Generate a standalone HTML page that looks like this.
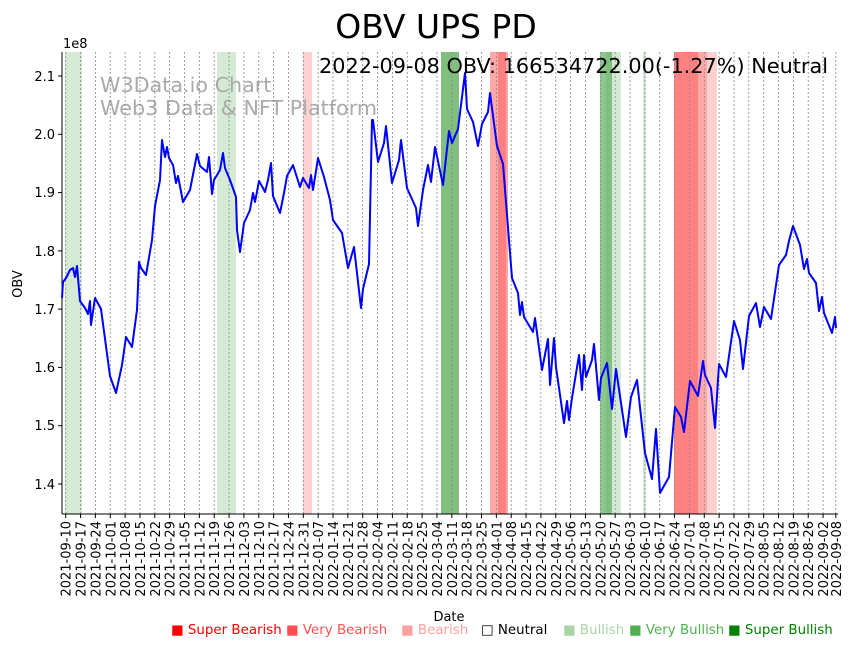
<!DOCTYPE html>
<html><head><meta charset="utf-8"><style>
html,body{margin:0;padding:0;background:#fff;}
svg{display:block;font-family:"DejaVu Sans","Liberation Sans",sans-serif;}
</style></head><body>
<svg width="855" height="646" viewBox="0 0 855 646" xmlns="http://www.w3.org/2000/svg">
<text x="436" y="38" font-size="33" text-anchor="middle">OBV UPS PD</text>
<!-- bands -->
<g>
<rect x="65" y="52" width="17" height="462" fill="#d4ead4"/>
<rect x="217" y="52" width="19" height="462" fill="#d4ead4"/>
<rect x="303" y="52" width="9" height="462" fill="#ffd0d0"/>
<rect x="441" y="52" width="18" height="462" fill="#80bf80"/>
<rect x="490" y="52" width="18" height="462" fill="#ffa8a8"/>
<rect x="498" y="52" width="8" height="462" fill="#ff8080"/>
<rect x="600" y="52" width="6" height="462" fill="#8cc78c"/>
<rect x="606" y="52" width="6" height="462" fill="#80bf80"/>
<rect x="612" y="52" width="9" height="462" fill="#d4ead4"/>
<rect x="643" y="52" width="3" height="462" fill="#d4ead4"/>
<rect x="674" y="52" width="24" height="462" fill="#ff8080"/>
<rect x="698" y="52" width="9" height="462" fill="#ffa8a8"/>
<rect x="707" y="52" width="10" height="462" fill="#ffd0d0"/>
</g>
<text x="100" y="92" font-size="20.7" fill="#aaaaaa">W3Data.io Chart</text>
<text x="100" y="115" font-size="20.7" fill="#aaaaaa">Web3 Data &amp; NFT Platform</text>
<g id="grid" stroke="#888" stroke-width="0.8" stroke-dasharray="2,2"></g>
<g id="xt"></g>
<!-- axes -->
<line x1="62" y1="52" x2="62" y2="514" stroke="#000" stroke-width="1"/>
<line x1="62" y1="514" x2="838" y2="514" stroke="#000" stroke-width="1"/>
<g font-size="13" text-anchor="end">
<line x1="58" y1="76" x2="62" y2="76" stroke="#000"/><text x="55" y="81">2.1</text>
<line x1="58" y1="134.3" x2="62" y2="134.3" stroke="#000"/><text x="55" y="139">2.0</text>
<line x1="58" y1="192.6" x2="62" y2="192.6" stroke="#000"/><text x="55" y="197">1.9</text>
<line x1="58" y1="250.9" x2="62" y2="250.9" stroke="#000"/><text x="55" y="256">1.8</text>
<line x1="58" y1="309.1" x2="62" y2="309.1" stroke="#000"/><text x="55" y="314">1.7</text>
<line x1="58" y1="367.4" x2="62" y2="367.4" stroke="#000"/><text x="55" y="372">1.6</text>
<line x1="58" y1="425.7" x2="62" y2="425.7" stroke="#000"/><text x="55" y="430">1.5</text>
<line x1="58" y1="484" x2="62" y2="484" stroke="#000"/><text x="55" y="489">1.4</text>
</g>
<text x="63" y="48" font-size="13">1e8</text>
<text x="22" y="284" font-size="13" text-anchor="middle" transform="rotate(-90 22 284)">OBV</text>
<text x="449" y="621" font-size="13" text-anchor="middle">Date</text>
<polyline fill="none" stroke="#0000ff" stroke-width="2" stroke-linejoin="round" points="62,298 63,282 66,278 70,270 73,268 75,277 77,266 80,301 85,308 88,314 90,301 91,325 95,298 101,309 110,376 116,393 122,365 126,337 132,347 137,310 139,262 141,268 146,275 152,240 155,206 160,180 162,140 165,157 167,147 169,158 173,165 176,183 178,176 183,202 190,190 197,154 200,166 207,172 209,157 212,194 214,180 220,170 223,153 225,168 230,180 236,197 237,230 240,252 244,223 250,210 253,193 255,202 259,181 263,188 265,192 268,180 271,163 273,196 280,213 284,193 287,176 293,165 300,187 303,178 309,188 311,175 313,190 318,158 324,177 330,200 333,220 342,233 348,268 354,247 361,308 363,289 369,264 372,120 373,120 378,162 384,143 386,126 392,183 399,160 401,140 407,188 416,208 418,226 423,190 428,165 431,182 435,147 443,185 449,131 452,143 458,129 465,73 467,109 473,122 478,146 482,124 488,112 490,93 497,146 503,164 512,278 518,293 520,315 522,302 524,317 533,332 535,318 542,370 548,339 550,385 554,338 556,367 564,423 567,401 569,420 572,398 579,355 582,390 584,355 586,377 592,360 594,344 599,400 601,378 607,363 612,409 616,369 626,437 631,397 637,380 645,453 652,479 656,429 660,493 669,477 675,407 681,417 684,432 690,381 698,396 703,361 705,375 711,388 715,428 719,364 726,377 734,321 740,340 743,369 749,316 756,303 760,327 764,307 771,319 779,265 786,255 789,241 793,226 800,245 804,269 807,259 809,273 816,283 819,311 822,297 824,313 832,333 835,317 836,328"/>
<text x="828" y="73" font-size="20.8" text-anchor="end">2022-09-08 OBV: 166534722.00(-1.27%) Neutral</text>
<g font-size="13.4">
<text x="171" y="634" fill="#ff0000">■ Super Bearish</text>
<text x="286" y="634" fill="#ff5050">■ Very Bearish</text>
<text x="401" y="634" fill="#ffa0a0">■ Bearish</text>
<text x="481" y="634" fill="#000">□ Neutral</text>
<text x="563" y="634" fill="#a8d4a8">■ Bullish</text>
<text x="629" y="634" fill="#50b050">■ Very Bullish</text>
<text x="728" y="634" fill="#008000">■ Super Bullish</text>
</g>
<script>
(function(){
var ns="http://www.w3.org/2000/svg";
var g=document.getElementById("grid"),xt=document.getElementById("xt");
var start=Date.UTC(2021,8,10),x0=65.7,pd=2.1215;
function add(d){
 var days=Math.round((d-start)/864e5);var x=x0+days*pd;
 var l=document.createElementNS(ns,"line");l.setAttribute("x1",x);l.setAttribute("x2",x);l.setAttribute("y1",52);l.setAttribute("y2",514);g.appendChild(l);
 var t=document.createElementNS(ns,"line");t.setAttribute("x1",x);t.setAttribute("x2",x);t.setAttribute("y1",514);t.setAttribute("y2",518);t.setAttribute("stroke","#000");xt.appendChild(t);
 var dt=new Date(d);var s=dt.getUTCFullYear()+"-"+("0"+(dt.getUTCMonth()+1)).slice(-2)+"-"+("0"+dt.getUTCDate()).slice(-2);
 var tx=document.createElementNS(ns,"text");tx.setAttribute("x",x+5);tx.setAttribute("y",521);tx.setAttribute("font-size","13");tx.setAttribute("text-anchor","end");tx.setAttribute("transform","rotate(-90 "+(x+5)+" 521)");tx.textContent=s;xt.appendChild(tx);
}
for(var i=0;i<52;i++)add(start+i*7*864e5);
add(Date.UTC(2022,8,8));
})();
</script>
</svg>
</body></html>
